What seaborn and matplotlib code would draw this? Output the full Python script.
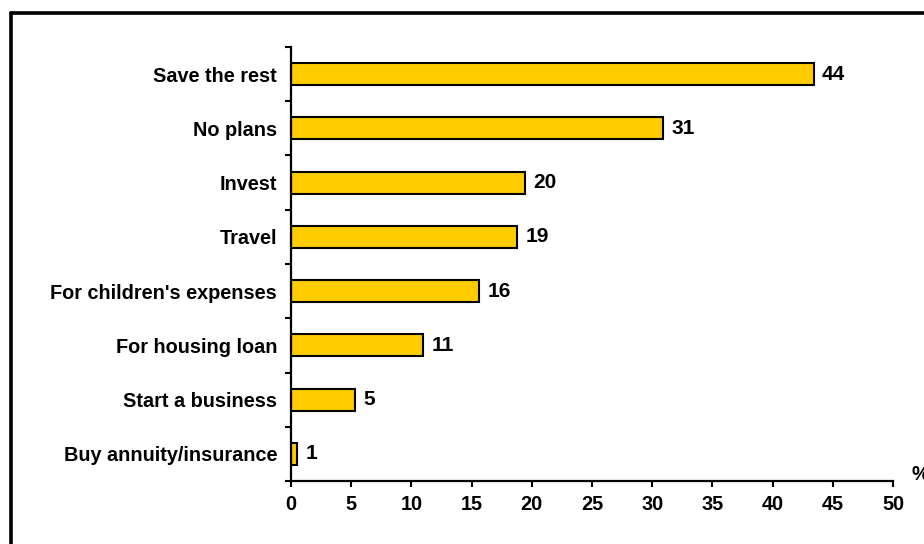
import matplotlib
matplotlib.use("Agg")
import matplotlib.pyplot as plt
import seaborn as sns
import numpy as np
import pandas as pd
from matplotlib.lines import Line2D

categories = ["Save the rest", "No plans", "Invest", "Travel",
              "For children's expenses", "For housing loan",
              "Start a business", "Buy annuity/insurance"]
values = [43.4, 30.9, 19.4, 18.8, 15.6, 11.0, 5.3, 0.5]
value_labels = ["44", "31", "20", "19", "16", "11", "5", "1"]
x_ticks = [0, 5, 10, 15, 20, 25, 30, 35, 40, 45, 50]

sns.set_theme(style="white")
plt.rcParams["font.family"] = ["Liberation Sans", "DejaVu Sans"]
plt.rcParams["font.weight"] = "bold"
plt.rcParams["text.color"] = "black"
plt.rcParams["xtick.color"] = "black"
plt.rcParams["ytick.color"] = "black"

FS = 14.3
FSV = 15
fig = plt.figure(figsize=(9.24, 5.44), dpi=100)
ax = fig.add_axes([291 / 924, 1 - 481 / 544, (893 - 291) / 924, (481 - 47) / 544])

df = pd.DataFrame({"cat": categories, "val": values})
sns.barplot(data=df, x="val", y="cat", color="#FFCC00", saturation=1,
            edgecolor="black", linewidth=1.5, width=0.41, ax=ax)

ax.set_xlim(0, 50)
ax.set_ylim(7.5, -0.5)
ax.set_xticks(x_ticks)
ax.set_xticklabels([str(t) for t in x_ticks], fontsize=FS, fontweight="bold", color="black")
ax.set_yticks(np.arange(-0.5, 8, 1))
ax.set_yticklabels([])
ax.set_yticks(np.arange(len(categories)), minor=True)
ax.set_yticklabels(categories, minor=True, fontsize=FS, fontweight="bold", color="black")
ax.tick_params(axis="y", which="major", length=4, width=1.5, direction="out", left=True, color="black")
ax.tick_params(axis="y", which="minor", length=0, pad=10, left=False)
ax.tick_params(axis="x", which="major", length=4, width=1.5, direction="out", bottom=True, pad=6, color="black")
ax.set_xlabel("")
ax.set_ylabel("")
for s in ["top", "right"]:
    ax.spines[s].set_visible(False)
for s in ["left", "bottom"]:
    ax.spines[s].set_color("black")
    ax.spines[s].set_linewidth(1.6)

ax.bar_label(ax.containers[0], labels=value_labels, padding=6,
             fontsize=FSV, fontweight="bold", color="black")

ax.text(1.03, 0.015, "%", transform=ax.transAxes, ha="left", va="center",
        fontsize=FS, fontweight="bold", color="black")

# outer frame (top and left edges visible)
fig.add_artist(Line2D([10.5 / 924, 1.0], [1 - 12.5 / 544, 1 - 12.5 / 544],
                      transform=fig.transFigure, color="black", lw=2.6))
fig.add_artist(Line2D([10.5 / 924, 10.5 / 924], [1 - 12.5 / 544, 0.0],
                      transform=fig.transFigure, color="black", lw=2.6))

fig.savefig("out.png", dpi=100, facecolor="white")
